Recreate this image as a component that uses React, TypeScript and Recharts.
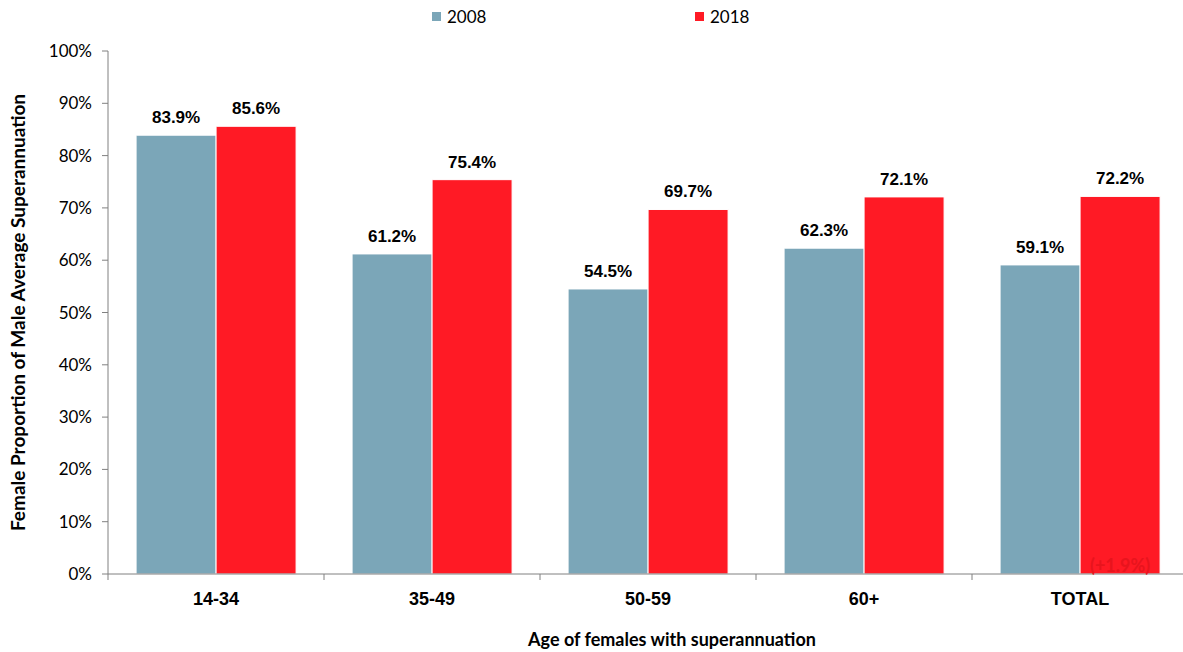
import { Bar, BarChart, LabelList, Legend, XAxis, YAxis, Label } from "recharts";

const ageGroups = ["14-34", "35-49", "50-59", "60+", "TOTAL"];
const share2008 = [83.9, 61.2, 54.5, 62.3, 59.1];
const share2018 = [85.6, 75.4, 69.7, 72.1, 72.2];
const notes2018 = ["", "", "", "", "(+1.9%)"];
const percentTicks = [0, 10, 20, 30, 40, 50, 60, 70, 80, 90, 100];

const BLUE = "#7ba6b8";
const RED = "#ff1a25";
const ARIAL = "'Liberation Sans', Arial, sans-serif";

const data = ageGroups.map((age, i) => ({
  age,
  y2008: share2008[i],
  y2018: share2018[i],
  note: notes2018[i],
}));

// category label plus small tick marks on the category boundaries
function AgeTick(props: any) {
  const { x, y, payload, index, visibleTicksCount } = props;
  const half = payload && payload.offset ? payload.offset : 108;
  const last = index === visibleTicksCount - 1;
  return (
    <g>
      <line x1={x - half} x2={x - half} y1={y - 6} y2={y} stroke="#808080" />
      {last && <line x1={x + half} x2={x + half} y1={y - 6} y2={y} stroke="#808080" />}
      <text
        x={x}
        y={y}
        dy={25}
        textAnchor="middle"
        fontSize={18}
        fontWeight={700}
        fontFamily={ARIAL}
        fill="#000"
      >
        {payload.value}
      </text>
    </g>
  );
}

function LegendRow(props: any) {
  const items = props.payload || [];
  const lefts = [432, 695];
  return (
    <div style={{ position: "relative", height: 30 }}>
      {items.map((item: any, i: number) => (
        <div
          key={item.value}
          style={{
            position: "absolute",
            left: lefts[i],
            top: 6,
            display: "flex",
            alignItems: "center",
            fontSize: 17,
            color: "#000",
          }}
        >
          <span style={{ width: 9, height: 9, background: item.color, marginRight: 6 }} />
          {item.value}
        </div>
      ))}
    </div>
  );
}

const valueLabel = (v: any) => `${Number(v).toFixed(1)}%`;

export default function App() {
  return (
    <div
      style={{
        position: "absolute",
        left: 0,
        top: 0,
        width: 1183,
        height: 652,
        overflow: "hidden",
        background: "#fff",
        fontFamily: "Lato, sans-serif",
      }}
    >
      <BarChart
        width={1200}
        height={652}
        data={data}
        margin={{ top: 21, right: 12, bottom: 0, left: 0 }}
        barCategoryGap="13%"
        barGap={0}
      >
        <Legend
          verticalAlign="top"
          content={LegendRow}
          wrapperStyle={{ top: 0, left: 0, width: 1183 }}
        />
        <XAxis
          dataKey="age"
          height={78}
          tickLine={false}
          tickSize={6}
          tickMargin={0}
          axisLine={{ stroke: "#808080" }}
          tick={AgeTick}
          interval={0}
        >
          <Label
            content={({ viewBox }: any) => (
              <text
                x={viewBox.x + viewBox.width / 2 + 24}
                y={viewBox.y + 72}
                textAnchor="middle"
                fontSize={18}
                fontWeight={700}
                fill="#000"
              >
                Age of females with superannuation
              </text>
            )}
          />
        </XAxis>
        <YAxis
          width={108}
          domain={[0, 100]}
          ticks={percentTicks}
          tickFormatter={(v: number) => `${v}%`}
          tickSize={6}
          tickMargin={10}
          axisLine={{ stroke: "#808080" }}
          tickLine={{ stroke: "#808080" }}
          tick={{ fontSize: 17, fill: "#000" }}
        >
          <Label
            content={({ viewBox }: any) => {
              const cx = 25;
              const cy = viewBox.y + viewBox.height / 2;
              return (
                <text
                  x={cx}
                  y={cy}
                  transform={`rotate(-90 ${cx} ${cy})`}
                  textAnchor="middle"
                  fontSize={19}
                  fontWeight={700}
                  fill="#000"
                >
                  Female Proportion of Male Average Superannuation
                </text>
              );
            }}
          />
        </YAxis>
        <Bar dataKey="y2008" name="2008" fill={BLUE} stroke="#ffffff" strokeWidth={1} isAnimationActive={false}>
          <LabelList
            dataKey="y2008"
            position="top"
            offset={12}
            formatter={valueLabel}
            style={{ fontSize: 17, fontWeight: 700, fill: "#000", fontFamily: ARIAL }}
          />
        </Bar>
        <Bar dataKey="y2018" name="2018" fill={RED} stroke="#ffffff" strokeWidth={1} isAnimationActive={false}>
          <LabelList
            dataKey="y2018"
            position="top"
            offset={12}
            formatter={valueLabel}
            style={{ fontSize: 17, fontWeight: 700, fill: "#000", fontFamily: ARIAL }}
          />
          <LabelList
            dataKey="note"
            position="insideBottom"
            offset={2}
            style={{ fontSize: 18, fontWeight: 700, fill: "#e8141d" }}
          />
        </Bar>
      </BarChart>
    </div>
  );
}
